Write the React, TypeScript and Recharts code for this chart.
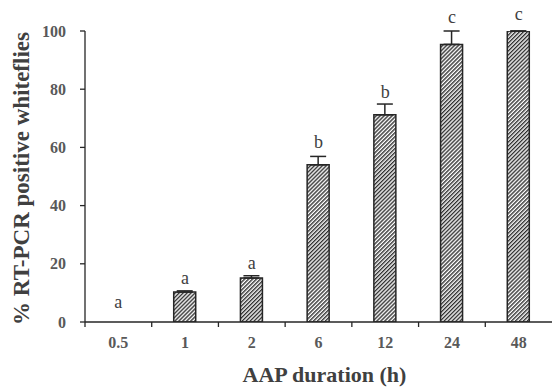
import React from 'react';
import { ComposedChart, Bar, Line, XAxis, YAxis, ErrorBar, LabelList, Label } from 'recharts';

const durations = ['0.5', '1', '2', '6', '12', '24', '48'];
const positives = [0, 10.3, 15.1, 54, 71.2, 95.4, 100];
const errors = [0, 0.4, 0.8, 2.9, 3.7, 4.6, 0];
const letters = ['a', 'a', 'a', 'b', 'b', 'c', 'c'];
const letterPos = [6.5, 14.8, 19.9, 61.5, 78.7, 104.5, 105.5];
const yTicks = [0, 20, 40, 60, 80, 100];

const W = 552;
const H = 387;
const yAxisW = 85;
const bandW = (W - yAxisW) / durations.length;
const serif = 'Liberation Serif';
const ink = '#262626';

const data = durations.map((d, i) => ({
    duration: d,
    positive: positives[i],
    errRange: [0, errors[i]],
    letter: letters[i],
    letterPos: letterPos[i],
}));

const XTick = ({ x, y, payload }: any) => (
    <g>
        <line x1={x - bandW / 2} x2={x - bandW / 2} y1={y} y2={y + 5} stroke={ink} strokeWidth={1.3} />
        <text x={x} y={y + 26} textAnchor="middle" style={{ fontFamily: serif, fontWeight: 'bold', fontSize: 16, fill: '#595959' }}>
            {payload.value}
        </text>
    </g>
);

const LetterLabel = ({ x, y, value }: any) => (
    <text x={x} y={y + 5} textAnchor="middle" style={{ fontFamily: serif, fontSize: 18, fill: '#404040' }}>
        {value}
    </text>
);

export default function App() {
    return (
        <div style={{ position: 'absolute', left: 0, top: 0, width: W, height: H, background: '#fff', fontFamily: serif }}>
            <ComposedChart width={W} height={H} data={data} margin={{ top: 31, right: 0, left: 0, bottom: 0 }}>
                <defs>
                    <pattern id="hatch" patternUnits="userSpaceOnUse" width="2.8" height="2.8" patternTransform="rotate(45)">
                        <rect width="2.8" height="2.8" fill="#ffffff" />
                        <line x1="0.7" y1="0" x2="0.7" y2="2.8" stroke="#303030" strokeWidth="1.4" />
                    </pattern>
                </defs>
                <XAxis
                    dataKey="duration"
                    height={65}
                    tickLine={false}
                    tickSize={0}
                    tickMargin={0}
                    axisLine={{ stroke: ink, strokeWidth: 1.3 }}
                    tick={<XTick />}
                    interval={0}
                >
                    <Label
                        content={({ viewBox }: any) => (
                            <text x={viewBox.x + viewBox.width / 2 + 6} y={382} textAnchor="middle" style={{ fontFamily: serif, fontWeight: 'bold', fontSize: 22, fill: '#404040' }}>
                                AAP duration (h)
                            </text>
                        )}
                    />
                </XAxis>
                <YAxis
                    width={yAxisW}
                    domain={[0, 100]}
                    ticks={yTicks}
                    allowDataOverflow
                    tickSize={5}
                    tickMargin={14}
                    axisLine={{ stroke: ink, strokeWidth: 1.3 }}
                    tickLine={{ stroke: ink, strokeWidth: 1.3 }}
                    tick={{ fill: '#595959', fontFamily: serif, fontWeight: 'bold', fontSize: 16 }}
                >
                    <Label
                        content={({ viewBox }: any) => (
                            <text
                                transform={`translate(29, ${viewBox.y + viewBox.height / 2 + 2}) rotate(-90)`}
                                textAnchor="middle"
                                style={{ fontFamily: serif, fontWeight: 'bold', fontSize: 23, fill: '#404040' }}
                            >
                                % RT-PCR positive whiteflies
                            </text>
                        )}
                    />
                </YAxis>
                <Bar dataKey="positive" barSize={22} fill="url(#hatch)" stroke={ink} strokeWidth={1.5} isAnimationActive={false}>
                    <ErrorBar dataKey="errRange" direction="y" width={8} stroke={ink} strokeWidth={1.5} />
                </Bar>
                <Line dataKey="letterPos" stroke="none" dot={false} activeDot={false} isAnimationActive={false}>
                    <LabelList dataKey="letter" content={<LetterLabel />} />
                </Line>
            </ComposedChart>
        </div>
    );
}
